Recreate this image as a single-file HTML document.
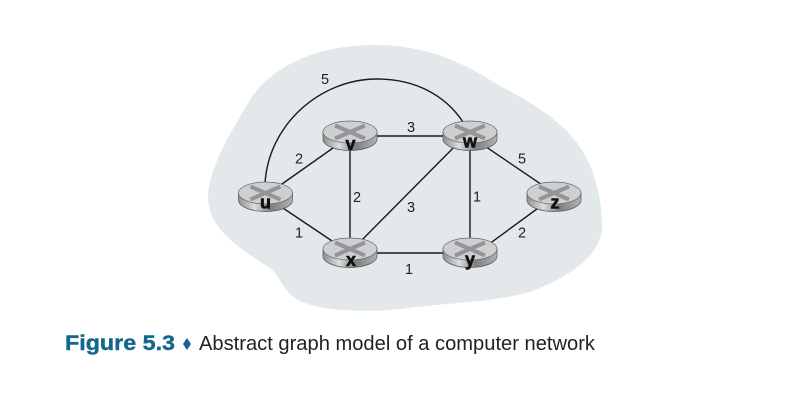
<!DOCTYPE html>
<html><head><meta charset="utf-8"><style>
html,body{margin:0;padding:0;background:#fff;width:808px;height:416px;overflow:hidden}
svg{display:block}
text{font-family:"Liberation Sans",sans-serif}
.l{font-size:14.5px;fill:#222;text-anchor:middle}
.n{font-size:18px;font-weight:bold;fill:#111;stroke:#111;stroke-width:.6;text-anchor:middle}
.e{stroke:#1a1a1a;stroke-width:1.4;fill:none}
</style></head><body>
<svg width="808" height="416" viewBox="0 0 808 416" xmlns="http://www.w3.org/2000/svg">
<defs>
<linearGradient id="s" x1="0" x2="1" y1="0" y2="0">
<stop offset="0" stop-color="#8e9092"/><stop offset=".3" stop-color="#dcddde"/><stop offset=".6" stop-color="#7d7f81"/><stop offset="1" stop-color="#b0b2b4"/>
</linearGradient>
<g id="r">
<path d="M-27-4V3A27 11.500 0 0 0 27 3V-4Z" fill="url(#s)" stroke="#555" stroke-width=".7"/>
<ellipse cx="0" cy="-4" rx="27" ry="11" fill="#cdcfd1" stroke="#666" stroke-width=".7"/>
<path d="M-15-10.500L15 2.500M15-10.500L-15 2.500" stroke="#939598" stroke-width="4"/>
</g>
</defs>
<path d="M208 195C210 165 232 130 250 100C272 65 320 45 372 45C430 45 465 64 500 86C540 106 575 130 590 165C598 185 602 205 602 228C601 255 570 277 530 292C490 303 440 303 400 309C370 312 330 312 305 303C283 295 285 282 270 268C250 255 225 240 214 220C209 210 208 203 208 195Z" fill="#e3e8ea"/>
<path class="e" d="M265 184C268 125 320 79 377 79C415 79 445 95 463 122"/>
<path class="e" d="M265 196L350 136M350 136H470M350 136V253M265 196L350 253M350 253H470M350 252L470 131M470 136V253M470 136L554 193M554 196.500L470 258"/>
<use href="#r" x="265.500" y="197"/>
<use href="#r" x="350" y="136"/>
<use href="#r" x="470" y="136"/>
<use href="#r" x="554" y="197"/>
<use href="#r" x="350" y="253"/>
<use href="#r" x="470" y="253"/>
<text class="n" x="265.500" y="208.500">u</text>
<text class="n" x="350.500" y="150">v</text>
<text class="n" x="470" y="147.500">w</text>
<text class="n" x="555" y="208.500">z</text>
<text class="n" x="351" y="266">x</text>
<text class="n" x="470" y="265.500">y</text>
<text class="l" x="325" y="84">5</text>
<text class="l" x="299" y="163.500">2</text>
<text class="l" x="411" y="132">3</text>
<text class="l" x="522" y="163.500">5</text>
<text class="l" x="357" y="202">2</text>
<text class="l" x="411" y="212">3</text>
<text class="l" x="477" y="201.500">1</text>
<text class="l" x="299" y="237.500">1</text>
<text class="l" x="522" y="237.500">2</text>
<text class="l" x="409" y="274">1</text>
<text x="65" y="350" font-size="21" font-weight="bold" fill="#13678f" stroke="#13678f" stroke-width=".4" textLength="110" lengthAdjust="spacingAndGlyphs">Figure 5.3</text>
<path d="M187 338L191 344L187 350L183 344Z" fill="#13678f"/>
<text x="199" y="350" font-size="20" fill="#222" textLength="396" lengthAdjust="spacingAndGlyphs">Abstract graph model of a computer network</text>
</svg>
</body></html>
